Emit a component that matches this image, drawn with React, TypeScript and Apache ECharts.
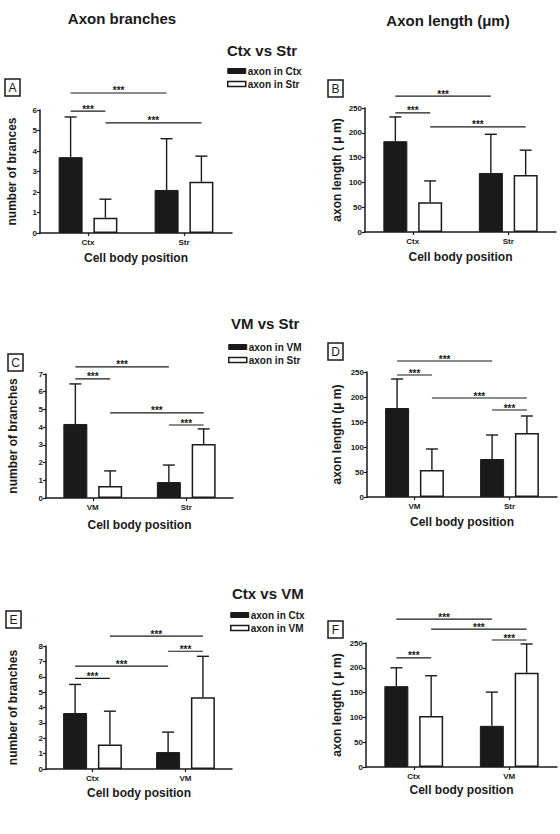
import { useEffect, useRef } from "react";
import * as echarts from "echarts";

// ---------- data ----------
const catsCtxStr = ["Ctx", "Str"];
const catsVMStr = ["VM", "Str"];
const catsCtxVM = ["Ctx", "VM"];

// Panel A: number of branches, Ctx vs Str
const aBlack = [3.7, 2.1];
const aBlackUp = [5.66, 4.6];
const aWhite = [0.75, 2.5];
const aWhiteUp = [1.65, 3.75];
// Panel B: axon length, Ctx vs Str
const bBlack = [183, 119];
const bBlackUp = [232, 197];
const bWhite = [60, 115];
const bWhiteUp = [103, 165];
// Panel C: number of branches, VM vs Str
const cBlack = [4.18, 0.9];
const cBlackUp = [6.44, 1.86];
const cWhite = [0.68, 3.05];
const cWhiteUp = [1.53, 3.9];
// Panel D: axon length, VM vs Str
const dBlack = [178, 76];
const dBlackUp = [236, 124];
const dWhite = [54, 128];
const dWhiteUp = [96, 162];
// Panel E: number of branches, Ctx vs VM
const eBlack = [3.64, 1.1];
const eBlackUp = [5.5, 2.4];
const eWhite = [1.6, 4.67];
const eWhiteUp = [3.76, 7.33];
// Panel F: axon length, Ctx vs VM
const fBlack = [163, 83];
const fBlackUp = [200, 151];
const fWhite = [103, 190];
const fWhiteUp = [184, 248];

// significance brackets: [fromCategory, fromBar, toCategory, toBar, value]
const aSig = [[0, 0, 1, 0, 6.83], [0, 0, 0, 1, 5.95], [0, 1, 1, 1, 5.37]];
const bSig = [[0, 0, 1, 0, 274], [0, 0, 0, 1, 240], [0, 1, 1, 1, 212]];
const cSig = [[0, 0, 1, 0, 7.4], [0, 0, 0, 1, 6.72], [0, 1, 1, 1, 4.8], [1, 0, 1, 1, 4.12]];
const dSig = [[0, 0, 1, 0, 272], [0, 0, 0, 1, 244], [0, 1, 1, 1, 198], [1, 0, 1, 1, 174]];
const eSig = [[0, 1, 1, 1, 8.64], [1, 0, 1, 1, 7.66], [0, 0, 1, 0, 6.69], [0, 0, 0, 1, 5.9]];
const fSig = [[0, 0, 1, 0, 298], [0, 1, 1, 1, 278], [1, 0, 1, 1, 256], [0, 0, 0, 1, 220]];

const branchMaxA = 6;
const branchMaxC = 7;
const branchMaxE = 8;
const lengthMax = 250;
const lengthStep = 50;

// ---------- style ----------
const FONT = "'Liberation Sans', Arial, Helvetica, sans-serif";
const INK = "#1a1a1a";
const BAR_W = 24;
const BAR_GAP = 0.45;
const BAR_OFF = (BAR_W + BAR_W * BAR_GAP) / 2;
const CAP = 6;

type Panel = {
  grid: { left: number; top: number; width: number; height: number };
  cats: string[];
  black: number[];
  blackUp: number[];
  white: number[];
  whiteUp: number[];
  sig: number[][];
  max: number;
  interval: number;
  blackName: string;
  whiteName: string;
  yName: string;
  yGap: number;
  xGap: number;
};

const panels: Panel[] = [
  { grid: { left: 40, top: 110, width: 192, height: 123 }, cats: catsCtxStr, black: aBlack, blackUp: aBlackUp, white: aWhite, whiteUp: aWhiteUp, sig: aSig, max: branchMaxA, interval: 1, blackName: "axon in Ctx", whiteName: "axon in Str", yName: "number of brances", yGap: 22, xGap: 19 },
  { grid: { left: 365, top: 108, width: 191, height: 124 }, cats: catsCtxStr, black: bBlack, blackUp: bBlackUp, white: bWhite, whiteUp: bWhiteUp, sig: bSig, max: lengthMax, interval: lengthStep, blackName: "axon in Ctx", whiteName: "axon in Str", yName: "axon length ( μ m)", yGap: 22, xGap: 19 },
  { grid: { left: 46, top: 374, width: 187, height: 124 }, cats: catsVMStr, black: cBlack, blackUp: cBlackUp, white: cWhite, whiteUp: cWhiteUp, sig: cSig, max: branchMaxC, interval: 1, blackName: "axon in VM", whiteName: "axon in Str", yName: "number of branches", yGap: 27, xGap: 21 },
  { grid: { left: 367, top: 372, width: 190, height: 125 }, cats: catsVMStr, black: dBlack, blackUp: dBlackUp, white: dWhite, whiteUp: dWhiteUp, sig: dSig, max: lengthMax, interval: lengthStep, blackName: "axon in VM", whiteName: "axon in Str", yName: "axon length (μ m)", yGap: 24, xGap: 19 },
  { grid: { left: 46, top: 646, width: 186, height: 123 }, cats: catsCtxVM, black: eBlack, blackUp: eBlackUp, white: eWhite, whiteUp: eWhiteUp, sig: eSig, max: branchMaxE, interval: 1, blackName: "axon in Ctx", whiteName: "axon in VM", yName: "number of branches", yGap: 27, xGap: 18 },
  { grid: { left: 366, top: 643, width: 191, height: 124 }, cats: catsCtxVM, black: fBlack, blackUp: fBlackUp, white: fWhite, whiteUp: fWhiteUp, sig: fSig, max: lengthMax, interval: lengthStep, blackName: "axon in Ctx", whiteName: "axon in VM", yName: "axon length ( μ m)", yGap: 23, xGap: 17 },
];

const blackStyle = { color: INK, borderColor: INK, borderWidth: 1 };
const whiteStyle = { color: "#ffffff", borderColor: INK, borderWidth: 1.5 };

function errRender(params: any, api: any) {
  const cat = api.value(0);
  const bar = api.value(1);
  const p0 = api.coord([cat, api.value(2)]);
  const p1 = api.coord([cat, api.value(3)]);
  const x = p0[0] + (bar === 0 ? -BAR_OFF : BAR_OFF);
  const st = { stroke: INK, lineWidth: 1.4 };
  return {
    type: "group",
    children: [
      { type: "line", shape: { x1: x, y1: p0[1], x2: x, y2: p1[1] }, style: st },
      { type: "line", shape: { x1: x - CAP, y1: p1[1], x2: x + CAP, y2: p1[1] }, style: st },
    ],
  };
}

function sigRender(params: any, api: any) {
  const v = api.value(4);
  const a = api.coord([api.value(0), v]);
  const b = api.coord([api.value(2), v]);
  const x1 = a[0] + (api.value(1) === 0 ? -BAR_OFF : BAR_OFF);
  const x2 = b[0] + (api.value(3) === 0 ? -BAR_OFF : BAR_OFF);
  return {
    type: "group",
    children: [
      { type: "line", shape: { x1, y1: a[1], x2, y2: a[1] }, style: { stroke: INK, lineWidth: 1.2 } },
      {
        type: "text",
        x: (x1 + x2) / 2,
        y: a[1] + 3,
        style: { text: "***", fill: INK, fontSize: 10, fontWeight: "bold", fontFamily: FONT, align: "center", verticalAlign: "bottom" },
      },
    ],
  };
}

function buildOption() {
  const grid: any[] = [];
  const xAxis: any[] = [];
  const yAxis: any[] = [];
  const series: any[] = [];
  panels.forEach((p, i) => {
    grid.push({ ...p.grid });
    xAxis.push({
      type: "category",
      gridIndex: i,
      data: p.cats,
      name: "Cell body position",
      nameLocation: "middle",
      nameGap: p.xGap,
      nameTextStyle: { fontSize: 12, fontWeight: "bold", color: INK, fontFamily: FONT },
      axisLine: { lineStyle: { color: INK, width: 1.5 } },
      axisTick: { show: true, alignWithLabel: true, length: 3, lineStyle: { color: INK, width: 1.2 } },
      axisLabel: { fontSize: 8, fontWeight: "bold", color: INK, fontFamily: FONT, margin: 5 },
    });
    yAxis.push({
      type: "value",
      gridIndex: i,
      min: 0,
      max: p.max,
      interval: p.interval,
      name: p.yName,
      nameLocation: "middle",
      nameRotate: 90,
      nameGap: p.yGap,
      nameTextStyle: { fontSize: 12, fontWeight: "bold", color: INK, fontFamily: FONT },
      splitLine: { show: false },
      axisLine: { show: true, lineStyle: { color: INK, width: 1.5 } },
      axisTick: { show: true, length: 3, lineStyle: { color: INK, width: 1.2 } },
      axisLabel: { fontSize: 8, fontWeight: "bold", color: INK, fontFamily: FONT, margin: 3 },
    });
    series.push({
      type: "bar",
      name: p.blackName,
      xAxisIndex: i,
      yAxisIndex: i,
      data: p.black,
      barWidth: BAR_W,
      barGap: `${BAR_GAP * 100}%`,
      itemStyle: blackStyle,
      z: 2,
    });
    series.push({
      type: "bar",
      name: p.whiteName,
      xAxisIndex: i,
      yAxisIndex: i,
      data: p.white,
      barWidth: BAR_W,
      barGap: `${BAR_GAP * 100}%`,
      itemStyle: whiteStyle,
      z: 2,
    });
    const errData: number[][] = [];
    p.cats.forEach((_, c) => {
      errData.push([c, 0, p.black[c], p.blackUp[c]]);
      errData.push([c, 1, p.white[c], p.whiteUp[c]]);
    });
    series.push({
      type: "custom",
      xAxisIndex: i,
      yAxisIndex: i,
      data: errData,
      encode: { x: 0, y: 3 },
      renderItem: errRender,
      clip: false,
      z: 3,
      silent: true,
    });
    series.push({
      type: "custom",
      xAxisIndex: i,
      yAxisIndex: i,
      data: p.sig,
      encode: { x: 0, y: 4 },
      renderItem: sigRender,
      clip: false,
      z: 3,
      silent: true,
    });
  });

  const legendBase = {
    orient: "vertical",
    itemWidth: 18,
    itemHeight: 5,
    itemGap: 3,
    padding: 0,
    icon: "rect",
    selectedMode: false,
    textStyle: { fontSize: 10, fontWeight: "bold", color: INK, fontFamily: FONT, padding: [0, 0, 0, -3] },
  };
  const legend = [
    { ...legendBase, left: 227, top: 66, data: [{ name: "axon in Ctx", itemStyle: blackStyle }, { name: "axon in Str", itemStyle: whiteStyle }] },
    { ...legendBase, left: 228, top: 342, data: [{ name: "axon in VM", itemStyle: blackStyle }, { name: "axon in Str", itemStyle: whiteStyle }] },
    { ...legendBase, left: 230, top: 610, data: [{ name: "axon in Ctx", itemStyle: blackStyle }, { name: "axon in VM", itemStyle: whiteStyle }] },
  ];

  const headText = (text: string, x: number, y: number, size: number, align = "center") => ({
    type: "text",
    x,
    y,
    style: { text, fill: INK, fontSize: size, fontWeight: "bold", fontFamily: FONT, align, verticalAlign: "middle" },
  });
  const boxLabel = (text: string, x: number, y: number) => ({
    type: "group",
    x,
    y,
    children: [
      { type: "rect", shape: { x: 0, y: 0, width: 15, height: 17 }, style: { fill: "#fff", stroke: INK, lineWidth: 1.5 } },
      { type: "text", x: 7.5, y: 9, style: { text, fill: INK, fontSize: 12, fontFamily: FONT, align: "center", verticalAlign: "middle" } },
    ],
  });

  const graphic = [
    headText("Axon branches", 122, 18, 15),
    headText("Axon length (μm)", 448, 20, 15),
    headText("Ctx vs Str", 227, 50, 15, "left"),
    headText("VM vs Str", 231, 323, 15, "left"),
    headText("Ctx vs VM", 232, 593, 15, "left"),
    boxLabel("A", 5, 79),
    boxLabel("B", 328, 80),
    boxLabel("C", 8, 354),
    boxLabel("D", 328, 343),
    boxLabel("E", 6, 611),
    boxLabel("F", 328, 621),
  ];

  return {
    animation: false,
    backgroundColor: "#ffffff",
    textStyle: { fontFamily: FONT },
    grid,
    xAxis,
    yAxis,
    series,
    legend,
    graphic,
  };
}

export default function App() {
  const ref = useRef<HTMLDivElement>(null);
  useEffect(() => {
    if (!ref.current) return;
    const chart = echarts.init(ref.current, undefined, { renderer: "svg" });
    chart.setOption(buildOption() as any);
    return () => chart.dispose();
  }, []);
  return <div ref={ref} style={{ position: "absolute", left: 0, top: 0, width: 560, height: 834, background: "#fff" }} />;
}
